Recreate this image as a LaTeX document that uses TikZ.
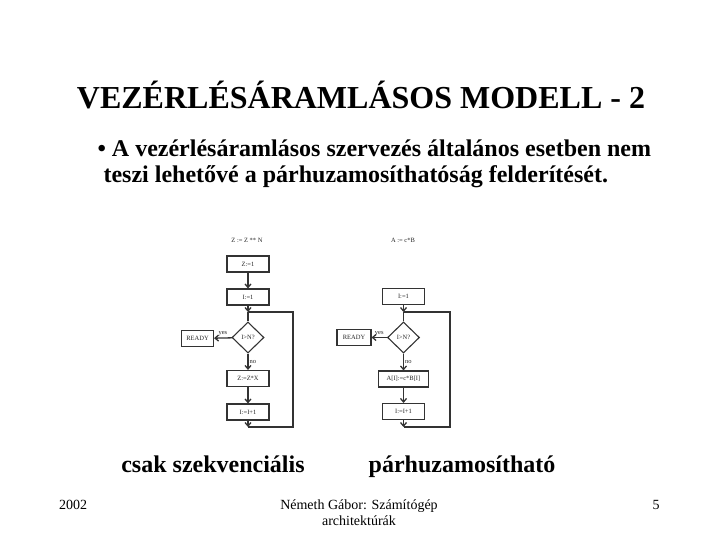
\documentclass[tikz,border=0pt]{standalone}
\usepackage{fontspec}
\setmainfont{Liberation Serif}
\usetikzlibrary{arrows.meta,positioning,shapes.geometric}

\begin{document}
\begin{tikzpicture}[
  x=1pt,y=-1pt,
  stepbox/.style={draw=black!80,line width=1.1pt,minimum width=42pt,minimum height=16pt,inner sep=1pt,font=\fontsize{6.5}{7}\selectfont,text=black!85},
  test/.style={diamond,draw=black!80,line width=1.1pt,minimum width=32pt,minimum height=31pt,inner sep=0pt,font=\fontsize{6.5}{7}\selectfont,text=black!85},
  lbl/.style={font=\fontsize{6.5}{7}\selectfont,text=black!85,inner sep=1pt},
  link/.style={draw=black!80,line width=1.3pt},
  every edge/.style={link,-{Straight Barb[length=3.5pt,width=6pt]}}
]
\useasboundingbox (0,0) rectangle (720,540);

% slide texts
\node[font=\bfseries\fontsize{32}{36}\selectfont] (title) at (361,95) {VEZÉRLÉSÁRAMLÁSOS MODELL - 2};
\node[anchor=west,font=\bfseries\fontsize{24}{28}\selectfont] (bul1) at (94,148) {\textbullet\ A vezérlésáramlásos szervezés általános esetben nem};
\node[anchor=west,font=\bfseries\fontsize{24}{28}\selectfont] (bul2) at (100,177) {teszi lehetővé a párhuzamosíthatóság felderítését.};

% sequential chart
\node[lbl] (zt) at (247,240) {Z := Z ** N};
\node[stepbox] (z1) at (248,264) {Z:=1};
\node[stepbox] (li1) at (248,297) {I:=1};
\coordinate (lj) at (248,312);
\node[test] (lt) at (248,337.5) {I>N?};
\node[stepbox,minimum width=32pt] (lr) at (197.5,338.5) {READY};
\node[stepbox] (zm) at (248,378.5) {Z:=Z*X};
\node[stepbox] (linc) at (248,412) {I:=I+1};
\coordinate (lb) at (248,427);
\coordinate (lc) at (293,312);
\path (z1) edge (li1)
      (li1) edge (lj)
      (lt) edge node[lbl,above] {yes} (lr)
      (lt) edge node[lbl,right] {no} (zm)
      (zm) edge (linc)
      (linc) edge (lb);
\draw[link] (lj) -- (lt.north);
\draw[link] (lb) -| (lc) -- (lj);

% parallel chart
\node[lbl] (at) at (403,240) {A := c*B};
\node[stepbox] (ri1) at (403.5,296.5) {I:=1};
\coordinate (rj) at (403.5,312);
\node[test] (rt) at (403.5,337.5) {I>N?};
\node[stepbox,minimum width=34pt] (rr) at (354,337.5) {READY};
\node[stepbox,minimum width=50pt] (rm) at (403.5,379) {A[I]:=c*B[I]};
\node[stepbox] (rinc) at (403.5,411.5) {I:=I+1};
\coordinate (rb) at (403.5,427);
\coordinate (rc) at (450,312);
\path (ri1) edge (rj)
      (rt) edge node[lbl,above] {yes} (rr)
      (rt) edge node[lbl,right] {no} (rm)
      (rm) edge (rinc)
      (rinc) edge (rb);
\draw[link] (rj) -- (rt.north);
\draw[link] (rb) -| (rc) -- (rj);

% captions and footer
\node[anchor=base,font=\bfseries\fontsize{24}{28}\selectfont] (seq) at (213,472) {csak szekvenciális};
\node[anchor=base,font=\bfseries\fontsize{24}{28}\selectfont] (par) at (462,472) {párhuzamosítható};
\node[font=\fontsize{14}{16}\selectfont] (year) at (73,505) {2002};
\node[font=\fontsize{14}{16}\selectfont,align=center] (auth) at (359,513) {Németh Gábor: Számítógép\\architektúrák};
\node[font=\fontsize{14}{16}\selectfont] (page) at (656,505) {5};
\end{tikzpicture}
\end{document}
